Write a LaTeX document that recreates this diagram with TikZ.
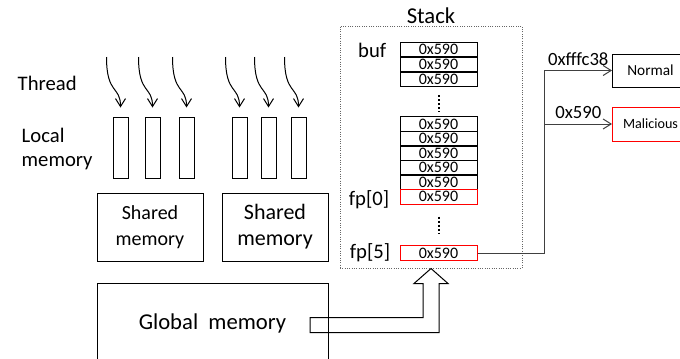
\documentclass[tikz,border=0pt]{standalone}
\usepackage{fontspec}
\setmainfont{Carlito}
\usetikzlibrary{arrows.meta}

\begin{document}
\begin{tikzpicture}[
            x=0.75pt, y=-0.75pt,
            box/.style={draw, line width=0.75pt, inner sep=0pt, align=center},
            cell/.style={draw, line width=0.75pt, minimum width=57.75pt, minimum height=10.9pt,
                inner sep=0pt, font=\fontsize{12}{12}\selectfont},
            redcell/.style={cell, draw=red},
            localmem/.style={draw, line width=0.75pt, minimum width=11.25pt, minimum height=45.75pt},
            tip/.style={-{Straight Barb[length=6pt,width=7.5pt]}},
            wire/.style={draw=black!75, line width=0.75pt},
            vdots/.style={line width=1.5pt, dash pattern=on 1.5pt off 1.5pt},
        ]
            \useasboundingbox (0,0) rectangle (680,358);

            % 线程与局部内存
            \node[anchor=west, font=\fontsize{15.5}{18}\selectfont] (thread) at (13,83) {Thread};
            \node[anchor=west, align=left, font=\fontsize{15.5}{17.5}\selectfont] (localtxt) at (17,149) {Local\\memory};
            \foreach \cx [count=\i] in {120.5,152.5,186.5,239.5,268.5,298.5} {
                \node[localmem] (lm\i) at (\cx,147.5) {};
                \coordinate (th\i) at (\cx-14,57);
                \draw[tip, line width=0.75pt] (th\i) .. controls +(0,38) and +(0,-22) .. ([yshift=6.75pt]lm\i.north);
            }

            % 共享内存与全局内存
            \node[box, minimum width=79.5pt, minimum height=51pt, font=\fontsize{15}{19.5}\selectfont] (shared1) at (150,227) {Shared\\memory};
            \node[box, minimum width=79.5pt, minimum height=51pt, font=\fontsize{16.5}{19.5}\selectfont] (shared2) at (275,227) {Shared\\memory};
            \node[box, minimum width=173.25pt, minimum height=60pt, font=\fontsize{17}{20}\selectfont] (global) at (212.5,323) {Global\ \ memory};

            % 栈
            \node[draw=black!60, line width=0.75pt, densely dotted, minimum width=136.5pt, minimum height=181.5pt] (stack) at (431,147) {};
            \node[font=\fontsize{17}{17}\selectfont] (stacktitle) at (431,15.5) {Stack};
            \foreach \y [count=\i] in {49.5,64.5,79.5}
                \node[cell] (buf\i) at (438.5,\y) {0x590};
            \foreach \y [count=\i] in {124.25,138.75,153.25,167.75,182.25}
                \node[cell] (mid\i) at (438.5,\y) {0x590};
            \node[redcell] (fp0) at (438.5,196.75) {0x590};
            \node[redcell] (fp5) at (438.5,253) {0x590};
            \draw[vdots] ([yshift=-6pt]buf3.south) -- ([yshift=3pt]mid1.north);
            \draw[vdots] ([yshift=-9pt]fp0.south) -- ([yshift=8.25pt]fp5.north);

            \node[anchor=east, inner sep=0pt, font=\fontsize{15.5}{15.5}\selectfont] (buf) at ([xshift=-9.75pt, yshift=-1pt]buf1.west) {buf};
            \node[anchor=east, inner sep=0pt, font=\fontsize{15.5}{15.5}\selectfont] (fp0lbl) at ([xshift=-7.5pt, yshift=-2pt]fp0.west) {fp[0]};
            \node[anchor=east, inner sep=0pt, font=\fontsize{15.5}{15.5}\selectfont] (fp5lbl) at ([xshift=-6.75pt]fp5.west) {fp[5]};

            % 跳转目标
            \node[box, anchor=west, minimum width=57pt, minimum height=24.75pt, font=\fontsize{11.5}{11.5}\selectfont] (normal) at (612,70.5) {Normal};
            \node[box, draw=red, anchor=west, minimum width=57pt, minimum height=25.5pt, font=\fontsize{10.6}{10.6}\selectfont] (malicious) at (612,124) {Malicious};

            \draw[wire] (fp5.east) -- ++(67,0) coordinate (fork);
            \draw[wire, tip] (fork) |- node[pos=0.75, above, text=black, font=\fontsize{14}{14}\selectfont] {0xfffc38} (normal.west);
            \draw[wire, tip] (fork |- malicious.west) -- node[above, text=black, font=\fontsize{14}{14}\selectfont] {0x590} (malicious.west);

            % 空心箭头：全局内存 -> 栈
            \draw[line width=0.75pt, line join=miter] (stack.south) -- ++(17,15) -- ++(-9,0) -- ++(0,49) -- ++(-129,0)
                -- ++(0,-15) -- ++(113,0) -- ++(0,-34) -- ++(-9,0) -- cycle;

        \end{tikzpicture}
\end{document}
